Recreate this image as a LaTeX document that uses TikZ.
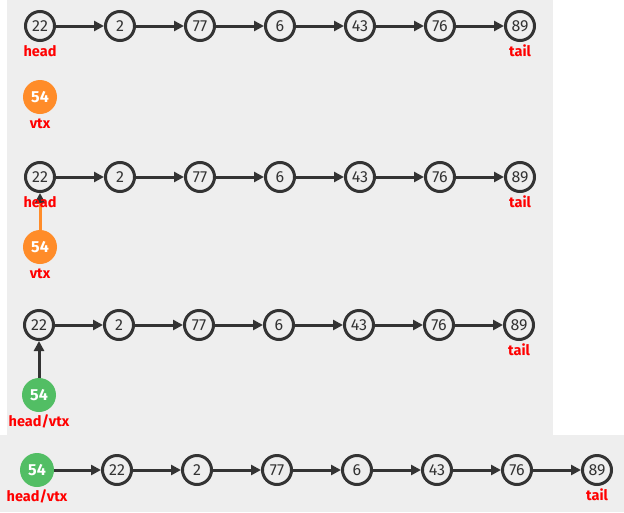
\documentclass[tikz,border=0pt]{standalone}
\usepackage{fontspec}
\setmainfont{Fira Sans}
\usetikzlibrary{positioning,arrows.meta}
\definecolor{bggray}{HTML}{EEEEEE}
\definecolor{nodegray}{HTML}{333333}
\definecolor{vtxorange}{HTML}{FF8C29}
\definecolor{headgreen}{HTML}{52BE64}
\definecolor{lblred}{HTML}{FF0000}

\begin{document}
\begin{tikzpicture}[x=1pt, y=-1pt, node distance={80pt}, font=\fontsize{16}{18}\selectfont,
  main/.style = {draw=nodegray, circle, line width=3pt, minimum size=29pt, inner sep=0pt, text=nodegray},
  vtx/.style = {circle, fill=vtxorange, minimum size=34pt, inner sep=0pt, text=white, font=\fontsize{16}{18}\selectfont\bfseries},
  newhead/.style = {vtx, fill=headgreen},
  lbl/.style = {text=lblred, inner sep=0pt, text height=10pt, text depth=3pt, font=\fontsize{14.5}{16}\selectfont\bfseries},
  link/.style = {draw=nodegray, line width=3pt, -{Triangle[length=10pt, width=10pt]}},
  vtxlink/.style = {link, draw=vtxorange, -{Triangle[length=10pt, width=10pt, color=nodegray]}}]
% panels
\fill[bggray] (7,0) rectangle (553,444);
\fill[bggray] (0,435) rectangle (624,512);
\useasboundingbox (0,0) rectangle (624,512);

% row 1: list and the new vertex
\node[main] (a1) at (40,26) {22};
\foreach \v [count=\i from 2, remember=\i as \j (initially 1)] in {2,77,6,43,76,89}
  \node[main, right of=a\j] (a\i) {\v};
\foreach \i [count=\k from 2] in {1,...,6}
  \draw[link] (a\i) -- (a\k);
\node[vtx] (va) at (40,97) {54};
\node[lbl, below=4pt of a1] (heada) {head};
\node[lbl, below=4pt of a7] (taila) {tail};
\node[lbl, below=4pt of va] (vtxa) {vtx};

% row 2: vtx points to head
\node[main] (b1) at (40,177) {22};
\foreach \v [count=\i from 2, remember=\i as \j (initially 1)] in {2,77,6,43,76,89}
  \node[main, right of=b\j] (b\i) {\v};
\foreach \i [count=\k from 2] in {1,...,6}
  \draw[link] (b\i) -- (b\k);
\node[vtx] (vb) at (40,247) {54};
\draw[vtxlink] (vb) -- (b1);
\node[lbl, below=4pt of b1] (headb) {head};
\node[lbl, below=4pt of b7] (tailb) {tail};
\node[lbl, below=4pt of vb] (vtxb) {vtx};

% row 3: head moves to vtx
\node[main] (c1) at (39,325) {22};
\foreach \v [count=\i from 2, remember=\i as \j (initially 1)] in {2,77,6,43,76,89}
  \node[main, right of=c\j] (c\i) {\v};
\foreach \i [count=\k from 2] in {1,...,6}
  \draw[link] (c\i) -- (c\k);
\node[newhead] (vc) at (39,395) {54};
\draw[link] (vc) -- (c1);
\node[lbl, below=4pt of c7] (tailc) {tail};
\node[lbl, below=4pt of vc] (vtxc) {head/vtx};

% row 4: resulting list
\node[newhead] (d1) at (37,470) {54};
\foreach \v [count=\i from 2, remember=\i as \j (initially 1)] in {22,2,77,6,43,76,89}
  \node[main, right of=d\j] (d\i) {\v};
\foreach \i [count=\k from 2] in {1,...,7}
  \draw[link] (d\i) -- (d\k);
\node[lbl, below=4pt of d1] (vtxd) {head/vtx};
\node[lbl, below=4pt of d8] (taild) {tail};
\end{tikzpicture}
\end{document}
